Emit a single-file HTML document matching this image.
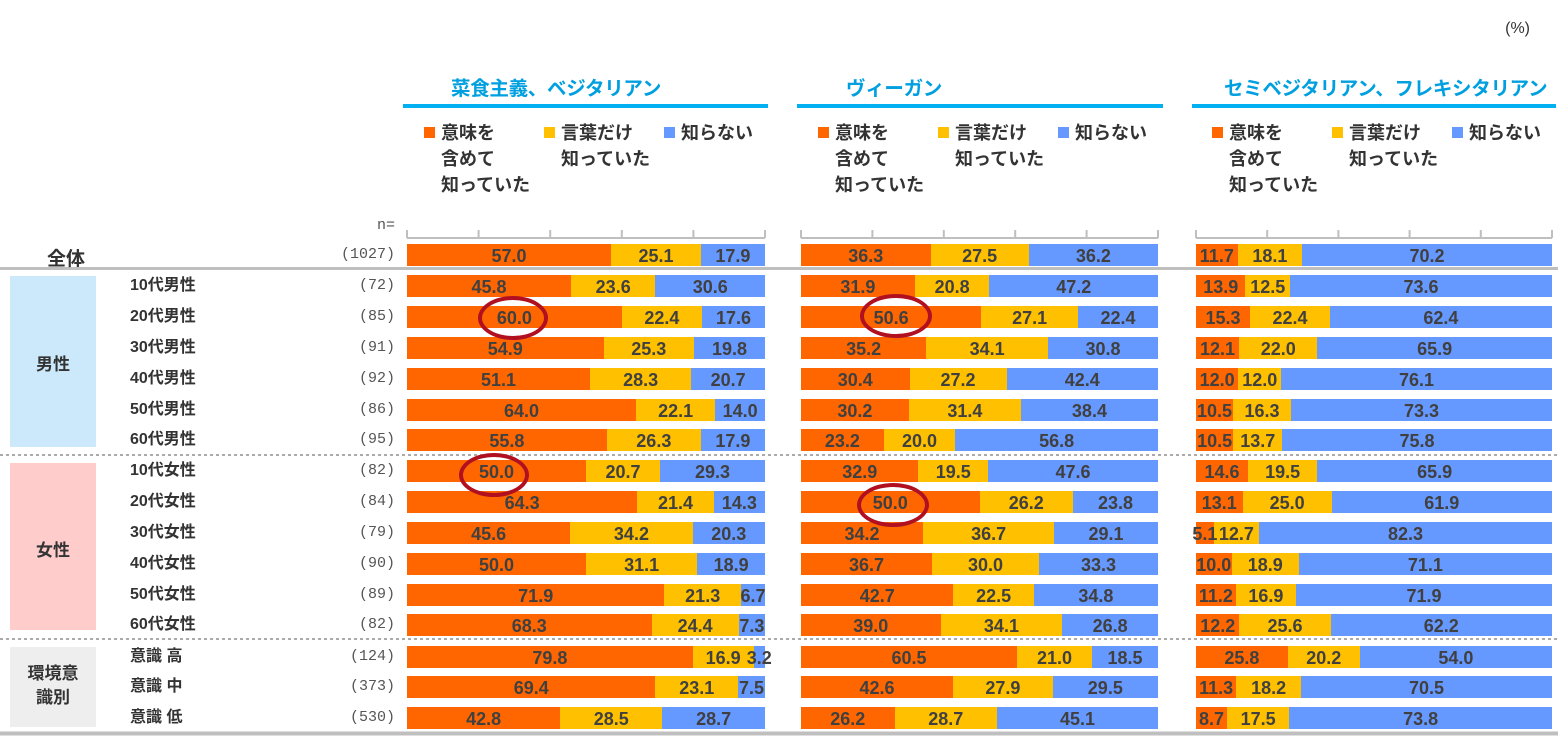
<!DOCTYPE html>
<html><head><meta charset="utf-8"><style>
body{margin:0;width:1558px;height:736px;background:#fff;position:relative;overflow:hidden;font-family:"Liberation Sans","Noto Sans CJK JP",sans-serif;}
.a{position:absolute;}
.b{position:absolute;height:22px;display:flex;font-weight:bold;font-size:18px;color:#404040;line-height:25px;}
.b span{display:block;text-align:center;white-space:nowrap;height:22px;overflow:visible;min-width:0;flex:none;position:relative;}
.b span b{position:relative;z-index:2;display:block;text-align:center;margin:0 -20px;width:calc(100% + 40px)}
.o{background:#ff6600}.y{background:#ffc000}.u{background:#6699ff}
.p1{left:407px;width:358px}.p2{left:801px;width:357px}.p3{left:1196px;width:356px}
.lab{position:absolute;left:130px;font-size:16px;font-weight:bold;color:#333;line-height:20px}
.n{position:absolute;right:1163px;font-family:"Liberation Mono",monospace;font-size:15px;color:#555;line-height:20px}
.t{position:absolute;font-size:19.5px;font-weight:bold;color:#00a0e0;white-space:nowrap;letter-spacing:-0.3px}
.hl{position:absolute;height:4px;background:#00b0f0;top:104px}
.lg{position:absolute;font-size:18px;font-weight:bold;color:#333;line-height:26px;top:120px;white-space:nowrap}
.sq{display:inline-block;width:11px;height:11px;margin-right:6px;vertical-align:1px}
.el{position:absolute;border:4px solid #b01020;border-radius:50%;box-sizing:border-box;z-index:5}
</style></head><body>
<div class="a" style="right:28px;top:20px;font-size:16px;color:#333">(%)</div>

<div class="t" style="left:451px;top:72px">菜食主義、ベジタリアン</div>
<div class="t" style="left:846px;top:72px">ヴィーガン</div>
<div class="t" style="left:1224px;top:72px">セミベジタリアン、フレキシタリアン</div>
<div class="hl" style="left:403px;width:365px"></div>
<div class="hl" style="left:797px;width:366px"></div>
<div class="hl" style="left:1192px;width:364px"></div>

<div class="lg" style="left:424px"><span class="sq o"></span>意味を<br><span style="margin-left:17px">含めて</span><br><span style="margin-left:17px">知っていた</span></div>
<div class="lg" style="left:544px"><span class="sq y"></span>言葉だけ<br><span style="margin-left:17px">知っていた</span></div>
<div class="lg" style="left:664px"><span class="sq u"></span>知らない</div>
<div class="lg" style="left:818px"><span class="sq o"></span>意味を<br><span style="margin-left:17px">含めて</span><br><span style="margin-left:17px">知っていた</span></div>
<div class="lg" style="left:938px"><span class="sq y"></span>言葉だけ<br><span style="margin-left:17px">知っていた</span></div>
<div class="lg" style="left:1058px"><span class="sq u"></span>知らない</div>
<div class="lg" style="left:1212px"><span class="sq o"></span>意味を<br><span style="margin-left:17px">含めて</span><br><span style="margin-left:17px">知っていた</span></div>
<div class="lg" style="left:1332px"><span class="sq y"></span>言葉だけ<br><span style="margin-left:17px">知っていた</span></div>
<div class="lg" style="left:1452px"><span class="sq u"></span>知らない</div>

<svg class="a" style="left:0;top:0" width="1558" height="736">
<g stroke="#bfbfbf" stroke-width="2" fill="none">
<path d="M407 238H765M407 230V238M478.6 230V238M550.2 230V238M621.8 230V238M693.4 230V238M765 230V238"/>
<path d="M801 238H1158M801 230V238M872.4 230V238M943.8 230V238M1015.2 230V238M1086.6 230V238M1158 230V238"/>
<path d="M1196 238H1552M1196 230V238M1267.2 230V238M1338.4 230V238M1409.6 230V238M1480.8 230V238M1552 230V238"/>
</g>
<path d="M0 268.5H1558" stroke="#bfbfbf" stroke-width="3"/>
<path d="M0 455H1558M0 639H1558" stroke="#aaa" stroke-width="2" stroke-dasharray="3,3"/>
<path d="M0 733.5H1558" stroke="#bfbfbf" stroke-width="4"/>
</svg>

<div class="a" style="left:10px;top:276px;width:86px;height:171px;background:#cce9fb"></div>
<div class="a" style="left:10px;top:463px;width:86px;height:167px;background:#ffcccc"></div>
<div class="a" style="left:10px;top:647px;width:86px;height:80px;background:#eeeeee"></div>
<div class="a" style="left:10px;width:86px;top:350px;text-align:center;font-size:17px;font-weight:bold;color:#333">男性</div>
<div class="a" style="left:10px;width:86px;top:536px;text-align:center;font-size:17px;font-weight:bold;color:#333">女性</div>
<div class="a" style="left:10px;width:86px;top:662px;text-align:center;font-size:17px;font-weight:bold;color:#333;line-height:24px">環境意<br>識別</div>
<div class="a" style="left:47px;top:244px;font-size:19px;font-weight:bold;color:#333">全体</div>
<div class="n" style="top:216px">n=</div>

<div class="n" style="top:245px">(1027)</div>
<div class="lab" style="top:276px">10代男性</div><div class="n" style="top:276px">(72)</div>
<div class="lab" style="top:307px">20代男性</div><div class="n" style="top:307px">(85)</div>
<div class="lab" style="top:338px">30代男性</div><div class="n" style="top:338px">(91)</div>
<div class="lab" style="top:369px">40代男性</div><div class="n" style="top:369px">(92)</div>
<div class="lab" style="top:400px">50代男性</div><div class="n" style="top:400px">(86)</div>
<div class="lab" style="top:430px">60代男性</div><div class="n" style="top:430px">(95)</div>
<div class="lab" style="top:461px">10代女性</div><div class="n" style="top:461px">(82)</div>
<div class="lab" style="top:492px">20代女性</div><div class="n" style="top:492px">(84)</div>
<div class="lab" style="top:523px">30代女性</div><div class="n" style="top:523px">(79)</div>
<div class="lab" style="top:554px">40代女性</div><div class="n" style="top:554px">(90)</div>
<div class="lab" style="top:585px">50代女性</div><div class="n" style="top:585px">(89)</div>
<div class="lab" style="top:615px">60代女性</div><div class="n" style="top:615px">(82)</div>
<div class="lab" style="top:647px">意識 高</div><div class="n" style="top:647px">(124)</div>
<div class="lab" style="top:677px">意識 中</div><div class="n" style="top:677px">(373)</div>
<div class="lab" style="top:708px">意識 低</div><div class="n" style="top:708px">(530)</div>

<!-- panel 1 -->
<div class="b p1" style="top:244px"><span class="o" style="width:57%"><b>57.0</b></span><span class="y" style="width:25.1%"><b>25.1</b></span><span class="u" style="width:17.9%"><b>17.9</b></span></div>
<div class="b p1" style="top:275px"><span class="o" style="width:45.8%"><b>45.8</b></span><span class="y" style="width:23.6%"><b>23.6</b></span><span class="u" style="width:30.6%"><b>30.6</b></span></div>
<div class="b p1" style="top:306px"><span class="o" style="width:60%"><b>60.0</b></span><span class="y" style="width:22.4%"><b>22.4</b></span><span class="u" style="width:17.6%"><b>17.6</b></span></div>
<div class="b p1" style="top:337px"><span class="o" style="width:54.9%"><b>54.9</b></span><span class="y" style="width:25.3%"><b>25.3</b></span><span class="u" style="width:19.8%"><b>19.8</b></span></div>
<div class="b p1" style="top:368px"><span class="o" style="width:51.1%"><b>51.1</b></span><span class="y" style="width:28.3%"><b>28.3</b></span><span class="u" style="width:20.6%"><b>20.7</b></span></div>
<div class="b p1" style="top:399px"><span class="o" style="width:64%"><b>64.0</b></span><span class="y" style="width:22.1%"><b>22.1</b></span><span class="u" style="width:13.9%"><b>14.0</b></span></div>
<div class="b p1" style="top:429px"><span class="o" style="width:55.8%"><b>55.8</b></span><span class="y" style="width:26.3%"><b>26.3</b></span><span class="u" style="width:17.9%"><b>17.9</b></span></div>
<div class="b p1" style="top:460px"><span class="o" style="width:50%"><b>50.0</b></span><span class="y" style="width:20.7%"><b>20.7</b></span><span class="u" style="width:29.3%"><b>29.3</b></span></div>
<div class="b p1" style="top:491px"><span class="o" style="width:64.3%"><b>64.3</b></span><span class="y" style="width:21.4%"><b>21.4</b></span><span class="u" style="width:14.3%"><b>14.3</b></span></div>
<div class="b p1" style="top:522px"><span class="o" style="width:45.6%"><b>45.6</b></span><span class="y" style="width:34.2%"><b>34.2</b></span><span class="u" style="width:20.2%"><b>20.3</b></span></div>
<div class="b p1" style="top:553px"><span class="o" style="width:50%"><b>50.0</b></span><span class="y" style="width:31.1%"><b>31.1</b></span><span class="u" style="width:18.9%"><b>18.9</b></span></div>
<div class="b p1" style="top:584px"><span class="o" style="width:71.9%"><b>71.9</b></span><span class="y" style="width:21.4%"><b>21.3</b></span><span class="u" style="width:6.7%"><b>6.7</b></span></div>
<div class="b p1" style="top:614px"><span class="o" style="width:68.3%"><b>68.3</b></span><span class="y" style="width:24.4%"><b>24.4</b></span><span class="u" style="width:7.3%"><b>7.3</b></span></div>
<div class="b p1" style="top:646px"><span class="o" style="width:79.8%"><b>79.8</b></span><span class="y" style="width:17%"><b>16.9</b></span><span class="u" style="width:3.2%"><b>3.2</b></span></div>
<div class="b p1" style="top:676px"><span class="o" style="width:69.4%"><b>69.4</b></span><span class="y" style="width:23.1%"><b>23.1</b></span><span class="u" style="width:7.5%"><b>7.5</b></span></div>
<div class="b p1" style="top:707px"><span class="o" style="width:42.8%"><b>42.8</b></span><span class="y" style="width:28.5%"><b>28.5</b></span><span class="u" style="width:28.7%"><b>28.7</b></span></div>

<!-- panel 2 -->
<div class="b p2" style="top:244px"><span class="o" style="width:36.3%"><b>36.3</b></span><span class="y" style="width:27.5%"><b>27.5</b></span><span class="u" style="width:36.2%"><b>36.2</b></span></div>
<div class="b p2" style="top:275px"><span class="o" style="width:31.9%"><b>31.9</b></span><span class="y" style="width:20.9%"><b>20.8</b></span><span class="u" style="width:47.2%"><b>47.2</b></span></div>
<div class="b p2" style="top:306px"><span class="o" style="width:50.5%"><b>50.6</b></span><span class="y" style="width:27.1%"><b>27.1</b></span><span class="u" style="width:22.4%"><b>22.4</b></span></div>
<div class="b p2" style="top:337px"><span class="o" style="width:35.1%"><b>35.2</b></span><span class="y" style="width:34.1%"><b>34.1</b></span><span class="u" style="width:30.8%"><b>30.8</b></span></div>
<div class="b p2" style="top:368px"><span class="o" style="width:30.4%"><b>30.4</b></span><span class="y" style="width:27.2%"><b>27.2</b></span><span class="u" style="width:42.4%"><b>42.4</b></span></div>
<div class="b p2" style="top:399px"><span class="o" style="width:30.2%"><b>30.2</b></span><span class="y" style="width:31.4%"><b>31.4</b></span><span class="u" style="width:38.4%"><b>38.4</b></span></div>
<div class="b p2" style="top:429px"><span class="o" style="width:23.2%"><b>23.2</b></span><span class="y" style="width:20%"><b>20.0</b></span><span class="u" style="width:56.8%"><b>56.8</b></span></div>
<div class="b p2" style="top:460px"><span class="o" style="width:32.9%"><b>32.9</b></span><span class="y" style="width:19.5%"><b>19.5</b></span><span class="u" style="width:47.6%"><b>47.6</b></span></div>
<div class="b p2" style="top:491px"><span class="o" style="width:50%"><b>50.0</b></span><span class="y" style="width:26.2%"><b>26.2</b></span><span class="u" style="width:23.8%"><b>23.8</b></span></div>
<div class="b p2" style="top:522px"><span class="o" style="width:34.2%"><b>34.2</b></span><span class="y" style="width:36.7%"><b>36.7</b></span><span class="u" style="width:29.1%"><b>29.1</b></span></div>
<div class="b p2" style="top:553px"><span class="o" style="width:36.7%"><b>36.7</b></span><span class="y" style="width:30%"><b>30.0</b></span><span class="u" style="width:33.3%"><b>33.3</b></span></div>
<div class="b p2" style="top:584px"><span class="o" style="width:42.7%"><b>42.7</b></span><span class="y" style="width:22.5%"><b>22.5</b></span><span class="u" style="width:34.8%"><b>34.8</b></span></div>
<div class="b p2" style="top:614px"><span class="o" style="width:39.1%"><b>39.0</b></span><span class="y" style="width:34.1%"><b>34.1</b></span><span class="u" style="width:26.8%"><b>26.8</b></span></div>
<div class="b p2" style="top:646px"><span class="o" style="width:60.5%"><b>60.5</b></span><span class="y" style="width:21%"><b>21.0</b></span><span class="u" style="width:18.5%"><b>18.5</b></span></div>
<div class="b p2" style="top:676px"><span class="o" style="width:42.6%"><b>42.6</b></span><span class="y" style="width:27.9%"><b>27.9</b></span><span class="u" style="width:29.5%"><b>29.5</b></span></div>
<div class="b p2" style="top:707px"><span class="o" style="width:26.2%"><b>26.2</b></span><span class="y" style="width:28.7%"><b>28.7</b></span><span class="u" style="width:45.1%"><b>45.1</b></span></div>

<!-- panel 3 -->
<div class="b p3" style="top:244px"><span class="o" style="width:11.7%"><b>11.7</b></span><span class="y" style="width:18.1%"><b>18.1</b></span><span class="u" style="width:70.2%"><b>70.2</b></span></div>
<div class="b p3" style="top:275px"><span class="o" style="width:13.9%"><b>13.9</b></span><span class="y" style="width:12.5%"><b>12.5</b></span><span class="u" style="width:73.6%"><b>73.6</b></span></div>
<div class="b p3" style="top:306px"><span class="o" style="width:15.2%"><b>15.3</b></span><span class="y" style="width:22.4%"><b>22.4</b></span><span class="u" style="width:62.4%"><b>62.4</b></span></div>
<div class="b p3" style="top:337px"><span class="o" style="width:12.1%"><b>12.1</b></span><span class="y" style="width:22%"><b>22.0</b></span><span class="u" style="width:65.9%"><b>65.9</b></span></div>
<div class="b p3" style="top:368px"><span class="o" style="width:11.9%"><b>12.0</b></span><span class="y" style="width:12%"><b>12.0</b></span><span class="u" style="width:76.1%"><b>76.1</b></span></div>
<div class="b p3" style="top:399px"><span class="o" style="width:10.4%"><b>10.5</b></span><span class="y" style="width:16.3%"><b>16.3</b></span><span class="u" style="width:73.3%"><b>73.3</b></span></div>
<div class="b p3" style="top:429px"><span class="o" style="width:10.5%"><b>10.5</b></span><span class="y" style="width:13.7%"><b>13.7</b></span><span class="u" style="width:75.8%"><b>75.8</b></span></div>
<div class="b p3" style="top:460px"><span class="o" style="width:14.6%"><b>14.6</b></span><span class="y" style="width:19.5%"><b>19.5</b></span><span class="u" style="width:65.9%"><b>65.9</b></span></div>
<div class="b p3" style="top:491px"><span class="o" style="width:13.1%"><b>13.1</b></span><span class="y" style="width:25%"><b>25.0</b></span><span class="u" style="width:61.9%"><b>61.9</b></span></div>
<div class="b p3" style="top:522px"><span class="o" style="width:5%"><b>5.1</b></span><span class="y" style="width:12.7%"><b>12.7</b></span><span class="u" style="width:82.3%"><b>82.3</b></span></div>
<div class="b p3" style="top:553px"><span class="o" style="width:10%"><b>10.0</b></span><span class="y" style="width:18.9%"><b>18.9</b></span><span class="u" style="width:71.1%"><b>71.1</b></span></div>
<div class="b p3" style="top:584px"><span class="o" style="width:11.2%"><b>11.2</b></span><span class="y" style="width:16.9%"><b>16.9</b></span><span class="u" style="width:71.9%"><b>71.9</b></span></div>
<div class="b p3" style="top:614px"><span class="o" style="width:12.2%"><b>12.2</b></span><span class="y" style="width:25.6%"><b>25.6</b></span><span class="u" style="width:62.2%"><b>62.2</b></span></div>
<div class="b p3" style="top:646px"><span class="o" style="width:25.8%"><b>25.8</b></span><span class="y" style="width:20.2%"><b>20.2</b></span><span class="u" style="width:54%"><b>54.0</b></span></div>
<div class="b p3" style="top:676px"><span class="o" style="width:11.3%"><b>11.3</b></span><span class="y" style="width:18.2%"><b>18.2</b></span><span class="u" style="width:70.5%"><b>70.5</b></span></div>
<div class="b p3" style="top:707px"><span class="o" style="width:8.7%"><b>8.7</b></span><span class="y" style="width:17.5%"><b>17.5</b></span><span class="u" style="width:73.8%"><b>73.8</b></span></div>

<div class="el" style="left:478px;top:296px;width:70px;height:44px"></div>
<div class="el" style="left:459px;top:453px;width:70px;height:44px"></div>
<div class="el" style="left:860px;top:294px;width:72px;height:44px"></div>
<div class="el" style="left:857px;top:483px;width:72px;height:44px"></div>
</body></html>
